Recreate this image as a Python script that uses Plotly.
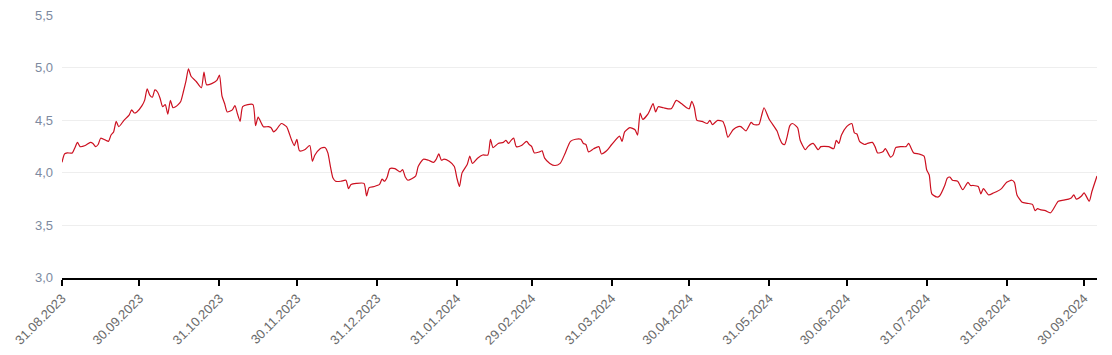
import plotly.graph_objects as go

dates = [
    "2023-08-31","2023-09-01","2023-09-02","2023-09-04","2023-09-05","2023-09-06","2023-09-07","2023-09-09",
    "2023-09-11","2023-09-12","2023-09-13","2023-09-14","2023-09-15","2023-09-17","2023-09-18","2023-09-19",
    "2023-09-20","2023-09-21","2023-09-22","2023-09-24","2023-09-26","2023-09-27","2023-09-28","2023-09-29",
    "2023-10-01","2023-10-02","2023-10-03","2023-10-04","2023-10-05","2023-10-06","2023-10-07","2023-10-08",
    "2023-10-09","2023-10-10","2023-10-11","2023-10-12","2023-10-13","2023-10-14","2023-10-15","2023-10-16",
    "2023-10-17","2023-10-18","2023-10-19","2023-10-20","2023-10-22","2023-10-24","2023-10-25","2023-10-26",
    "2023-10-28","2023-10-30","2023-10-31",
    "2023-11-01","2023-11-02","2023-11-03","2023-11-05","2023-11-06","2023-11-07","2023-11-08","2023-11-09",
    "2023-11-11","2023-11-13","2023-11-14","2023-11-15","2023-11-17","2023-11-19","2023-11-20","2023-11-21",
    "2023-11-22","2023-11-24","2023-11-26","2023-11-27","2023-11-28","2023-11-29","2023-11-30",
    "2023-12-01","2023-12-03","2023-12-05","2023-12-06","2023-12-07","2023-12-09","2023-12-10","2023-12-11",
    "2023-12-12","2023-12-13","2023-12-14","2023-12-15","2023-12-17","2023-12-19","2023-12-20","2023-12-21",
    "2023-12-23","2023-12-26","2023-12-27","2023-12-28","2023-12-30",
    "2024-01-01","2024-01-02","2024-01-03","2024-01-04","2024-01-05","2024-01-07","2024-01-09","2024-01-10",
    "2024-01-11","2024-01-12","2024-01-15","2024-01-16","2024-01-18","2024-01-20","2024-01-22","2024-01-23",
    "2024-01-24","2024-01-25","2024-01-26","2024-01-28","2024-01-30","2024-01-31",
    "2024-02-01","2024-02-02","2024-02-04","2024-02-05","2024-02-06","2024-02-08","2024-02-10","2024-02-12",
    "2024-02-13","2024-02-14","2024-02-16","2024-02-18","2024-02-19","2024-02-20","2024-02-21","2024-02-22",
    "2024-02-23","2024-02-25","2024-02-27","2024-02-28","2024-02-29",
    "2024-03-01","2024-03-03","2024-03-04","2024-03-05","2024-03-07","2024-03-09","2024-03-11","2024-03-13",
    "2024-03-15","2024-03-17","2024-03-19","2024-03-20","2024-03-21","2024-03-22","2024-03-24","2024-03-26",
    "2024-03-27","2024-03-29","2024-03-31",
    "2024-04-03","2024-04-04","2024-04-05","2024-04-07","2024-04-09","2024-04-10","2024-04-11","2024-04-12",
    "2024-04-14","2024-04-15","2024-04-16","2024-04-17","2024-04-18","2024-04-20","2024-04-23","2024-04-25",
    "2024-04-27","2024-04-29","2024-04-30",
    "2024-05-01","2024-05-02","2024-05-03","2024-05-05","2024-05-07","2024-05-08","2024-05-09","2024-05-11",
    "2024-05-13","2024-05-14","2024-05-15","2024-05-17","2024-05-19","2024-05-20","2024-05-22","2024-05-24",
    "2024-05-25","2024-05-27","2024-05-28","2024-05-29","2024-05-31",
    "2024-06-03","2024-06-04","2024-06-05","2024-06-06","2024-06-07","2024-06-08","2024-06-09","2024-06-11",
    "2024-06-12","2024-06-14","2024-06-15","2024-06-17","2024-06-19","2024-06-20","2024-06-23","2024-06-25",
    "2024-06-26","2024-06-27","2024-06-28","2024-06-30",
    "2024-07-02","2024-07-03","2024-07-04","2024-07-05","2024-07-07","2024-07-08","2024-07-10","2024-07-11",
    "2024-07-12","2024-07-14","2024-07-15","2024-07-17","2024-07-18","2024-07-19","2024-07-21","2024-07-23",
    "2024-07-24","2024-07-26","2024-07-28","2024-07-30","2024-07-31",
    "2024-08-01","2024-08-02","2024-08-04","2024-08-05","2024-08-07","2024-08-08","2024-08-09","2024-08-10",
    "2024-08-12","2024-08-14","2024-08-16","2024-08-17","2024-08-18","2024-08-20","2024-08-21","2024-08-22",
    "2024-08-24","2024-08-26","2024-08-27","2024-08-29","2024-08-31",
    "2024-09-02","2024-09-03","2024-09-04","2024-09-06","2024-09-08","2024-09-10","2024-09-11","2024-09-12",
    "2024-09-13","2024-09-15","2024-09-17","2024-09-20","2024-09-22","2024-09-24","2024-09-25","2024-09-26",
    "2024-09-27","2024-09-29","2024-09-30",
    "2024-10-02","2024-10-03","2024-10-05",
]

values = [
    4.10,4.18,4.19,4.19,4.24,4.29,4.25,4.26,
    4.29,4.28,4.25,4.27,4.33,4.31,4.30,4.36,
    4.39,4.49,4.44,4.50,4.55,4.60,4.57,4.58,
    4.64,4.69,4.80,4.74,4.72,4.79,4.77,4.71,
    4.63,4.65,4.56,4.69,4.62,4.63,4.65,4.68,
    4.77,4.87,4.99,4.92,4.87,4.81,4.96,4.84,
    4.85,4.88,4.93,
    4.73,4.66,4.58,4.60,4.64,4.56,4.49,4.63,
    4.65,4.65,4.45,4.53,4.44,4.44,4.43,4.39,
    4.41,4.47,4.44,4.38,4.31,4.26,4.32,
    4.21,4.22,4.26,4.11,4.17,4.23,4.24,4.24,
    4.19,4.06,3.95,3.92,3.92,3.93,3.85,3.89,
    3.90,3.90,3.78,3.86,3.87,
    3.89,3.94,3.92,3.96,4.04,4.04,4.01,4.03,
    3.96,3.93,3.97,4.06,4.13,4.12,4.10,4.13,
    4.18,4.12,4.13,4.11,4.06,3.95,
    3.87,4.00,4.08,4.16,4.09,4.14,4.17,4.17,
    4.32,4.24,4.28,4.29,4.31,4.28,4.31,4.33,
    4.25,4.26,4.30,4.27,4.25,
    4.19,4.20,4.21,4.14,4.09,4.07,4.09,4.19,
    4.30,4.32,4.32,4.28,4.27,4.20,4.23,4.25,
    4.18,4.21,4.27,
    4.35,4.30,4.39,4.43,4.41,4.36,4.57,4.51,
    4.56,4.61,4.66,4.58,4.63,4.62,4.61,4.69,
    4.66,4.62,4.61,
    4.68,4.62,4.50,4.49,4.47,4.50,4.46,4.50,
    4.49,4.43,4.34,4.41,4.44,4.44,4.40,4.48,
    4.46,4.46,4.54,4.62,4.51,
    4.40,4.33,4.28,4.27,4.35,4.45,4.47,4.43,
    4.31,4.22,4.25,4.28,4.22,4.25,4.25,4.23,
    4.31,4.28,4.36,4.44,
    4.47,4.38,4.37,4.30,4.27,4.28,4.29,4.25,
    4.19,4.20,4.23,4.15,4.17,4.24,4.25,4.25,
    4.28,4.19,4.18,4.16,4.03,
    3.98,3.80,3.77,3.78,3.88,3.95,3.96,3.93,
    3.92,3.84,3.91,3.88,3.88,3.87,3.80,3.85,
    3.79,3.81,3.82,3.85,3.91,
    3.93,3.91,3.79,3.72,3.71,3.70,3.64,3.66,
    3.65,3.64,3.62,3.73,3.74,3.75,3.76,3.79,
    3.75,3.78,3.81,
    3.73,3.82,3.97,
]

tick_dates = ["2023-08-31","2023-09-30","2023-10-31","2023-11-30","2023-12-31","2024-01-31",
              "2024-02-29","2024-03-31","2024-04-30","2024-05-31","2024-06-30","2024-07-31",
              "2024-08-31","2024-09-30"]
tick_labels = ["31.08.2023","30.09.2023","31.10.2023","30.11.2023","31.12.2023","31.01.2024",
               "29.02.2024","31.03.2024","30.04.2024","31.05.2024","30.06.2024","31.07.2024",
               "31.08.2024","30.09.2024"]
y_ticks = [3.0, 3.5, 4.0, 4.5, 5.0, 5.5]

fig = go.Figure()
fig.add_trace(go.Scatter(
    x=dates, y=values, mode="lines",
    line=dict(color="#cc1020", width=1.2, shape="spline", smoothing=0.6),
    hoverinfo="x+y", showlegend=False,
))

# page body has an 8px default margin, so the figure is drawn 8px smaller
fig.update_layout(
    width=1104, height=347,
    margin=dict(l=54, r=15, t=7, b=77),
    paper_bgcolor="white", plot_bgcolor="white",
    separators=", ",
    font=dict(family="Arial, Liberation Sans, sans-serif", size=13, color="#666666"),
)
fig.update_xaxes(
    type="date", automargin=False,
    range=["2023-08-31", "2024-10-05"],
    tickmode="array", tickvals=tick_dates, ticktext=tick_labels,
    tickangle=-45, tickfont=dict(size=13, color="#6b6b6b"),
    ticklabeloverflow="allow",
    showgrid=False, zeroline=False,
    showline=True, linecolor="#000000", linewidth=1.5,
    ticks="outside", ticklen=6, tickcolor="#000000", tickwidth=1.5,
)
fig.update_yaxes(
    automargin=False,
    range=[2.999, 5.503],
    tickmode="array", tickvals=y_ticks, tickformat=".1f",
    tickfont=dict(size=13, color="#7d8aa0"),
    ticklabeloverflow="allow",
    showgrid=True, gridcolor="#eeeeee", gridwidth=1,
    zeroline=False, showline=False, ticks="", ticklabelstandoff=8,
)

fig.write_html("out.html")
